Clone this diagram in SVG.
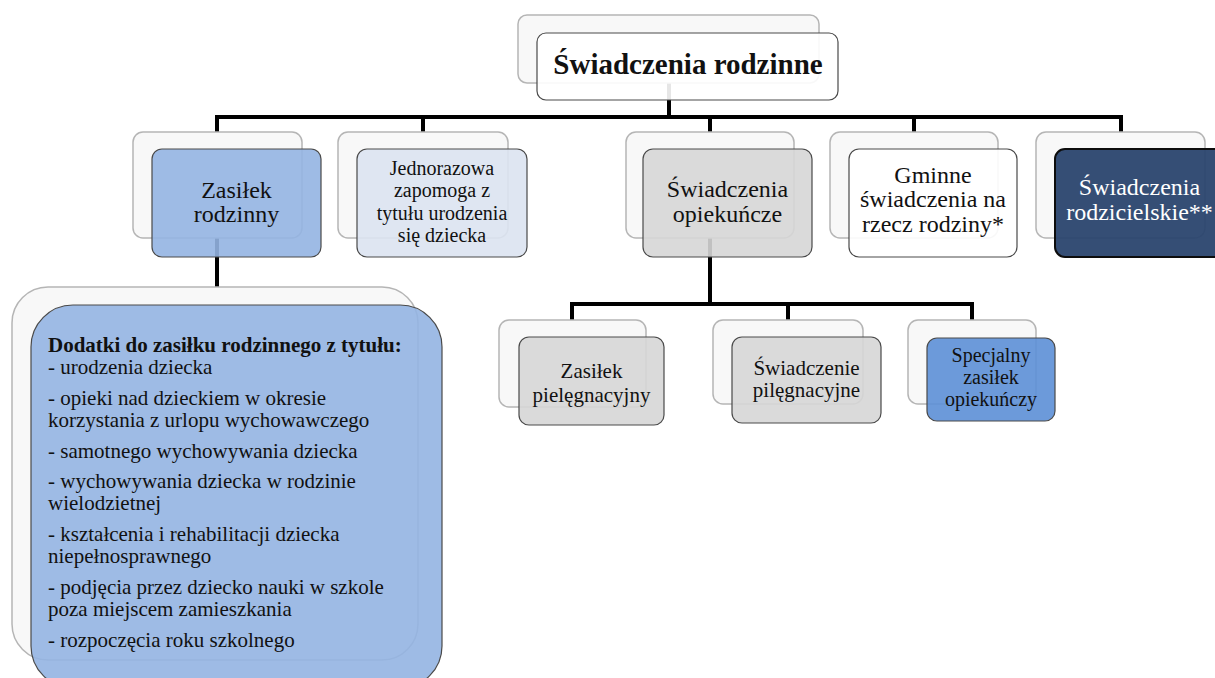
<svg xmlns="http://www.w3.org/2000/svg" width="1215" height="678" viewBox="0 0 1215 678">
<style>
.bk{fill:#f8f8f8;stroke:#b5b5b5;stroke-width:1.5}
.fr{stroke:#4a4a4a;stroke-width:1.2;fill-opacity:0.9}
.t{font-family:"Liberation Serif","Times New Roman",serif;fill:#111;text-anchor:middle}
.l1{font-size:24px}
.l2{font-size:21px}
.l3{font-size:20px}
.lst{font-family:"Liberation Serif","Times New Roman",serif;fill:#111;font-size:21px}
.conn{stroke:#000;stroke-width:4;fill:none;stroke-linejoin:miter;stroke-linecap:butt}
</style>
<rect width="1215" height="678" fill="#ffffff"/>
<g id="connectors">
<path class="conn" d="M669,83 V117"/>
<path class="conn" d="M217,132 V117 H1121 V132"/>
<path class="conn" d="M423,117 V132"/>
<path class="conn" d="M710,117 V132"/>
<path class="conn" d="M914,117 V132"/>
<path class="conn" d="M217,238 V287"/>
<path class="conn" d="M710,238 V304"/>
<path class="conn" d="M572,320 V304 H972 V320"/>
<path class="conn" d="M788,304 V320"/>
</g>
<g id="root">
<rect class="bk" x="518" y="15" width="301" height="68" rx="9"/>
<rect class="fr" x="537" y="33" width="301" height="67" rx="9" fill="#ffffff"/>
<text class="t" x="688" y="74" font-size="29" font-weight="bold">Świadczenia rodzinne</text>
</g>
<g id="zasilek-rodzinny">
<rect class="bk" x="133" y="132" width="169" height="106" rx="10"/>
<rect class="fr" x="152" y="149" width="169" height="108" rx="10" fill="#94b4e2"/>
<text class="t l1" x="236.5" y="198">Zasiłek</text>
<text class="t l1" x="236.5" y="222">rodzinny</text>
</g>
<g id="jednorazowa">
<rect class="bk" x="338" y="132" width="170" height="106" rx="10"/>
<rect class="fr" x="357" y="149" width="170" height="108" rx="10" fill="#dbe3f1"/>
<text class="t l3" x="442" y="175">Jednorazowa</text>
<text class="t l3" x="442" y="197">zapomoga z</text>
<text class="t l3" x="442" y="220">tytułu urodzenia</text>
<text class="t l3" x="442" y="242">się dziecka</text>
</g>
<g id="opiekuncze">
<rect class="bk" x="626" y="132" width="168" height="106" rx="10"/>
<rect class="fr" x="643" y="149" width="169" height="108" rx="10" fill="#d6d6d6"/>
<text class="t l1" x="727.5" y="197">Świadczenia</text>
<text class="t l1" x="727.5" y="222">opiekuńcze</text>
</g>
<g id="gminne">
<rect class="bk" x="830" y="132" width="168" height="106" rx="10"/>
<rect class="fr" x="849" y="149" width="168" height="108" rx="10" fill="#ffffff"/>
<text class="t l1" x="933" y="183">Gminne</text>
<text class="t l1" x="933" y="207">świadczenia na</text>
<text class="t l1" x="933" y="232">rzecz rodziny*</text>
</g>
<g id="rodzicielskie">
<rect class="bk" x="1036" y="132" width="169" height="106" rx="10"/>
<rect x="1055" y="149" width="170" height="108" rx="10" fill="#2a456e" fill-opacity="0.95" stroke="#0d0d0d" stroke-width="2"/>
<text class="t l1" x="1139.5" y="195" style="fill:#ffffff">Świadczenia</text>
<text class="t l1" x="1139.5" y="220" style="fill:#ffffff">rodzicielskie**</text>
</g>
<g id="dodatki">
<rect class="bk" x="12" y="287" width="406" height="373" rx="36"/>
<rect class="fr" x="31" y="305" width="411" height="383" rx="42" fill="#94b4e2"/>
<text class="lst" x="48" y="352" font-weight="bold">Dodatki do zasiłku rodzinnego z tytułu:</text>
<text class="lst" x="48" y="374">- urodzenia dziecka</text>
<text class="lst" x="48" y="405">- opieki nad dzieckiem w okresie</text>
<text class="lst" x="48" y="427">korzystania z urlopu wychowawczego</text>
<text class="lst" x="48" y="458">- samotnego wychowywania dziecka</text>
<text class="lst" x="48" y="488">- wychowywania dziecka w rodzinie</text>
<text class="lst" x="48" y="510">wielodzietnej</text>
<text class="lst" x="48" y="541">- kształcenia i rehabilitacji dziecka</text>
<text class="lst" x="48" y="563">niepełnosprawnego</text>
<text class="lst" x="48" y="594">- podjęcia przez dziecko nauki w szkole</text>
<text class="lst" x="48" y="616">poza miejscem zamieszkania</text>
<text class="lst" x="48" y="647">- rozpoczęcia roku szkolnego</text>
</g>
<g id="zasilek-pielegnacyjny">
<rect class="bk" x="499" y="320" width="147" height="87" rx="10"/>
<rect class="fr" x="519" y="337" width="145" height="88" rx="10" fill="#d6d6d6"/>
<text class="t l2" x="591.5" y="378">Zasiłek</text>
<text class="t l2" x="591.5" y="402">pielęgnacyjny</text>
</g>
<g id="swiadczenie-pielegnacyjne">
<rect class="bk" x="713" y="320" width="150" height="84" rx="10"/>
<rect class="fr" x="732" y="337" width="149" height="86" rx="10" fill="#d6d6d6"/>
<text class="t l2" x="806.5" y="375">Świadczenie</text>
<text class="t l2" x="806.5" y="397">pilęgnacyjne</text>
</g>
<g id="specjalny">
<rect class="bk" x="908" y="320" width="128" height="84" rx="10"/>
<rect class="fr" x="927" y="338" width="128" height="83" rx="10" fill="#5c8fd6"/>
<text class="t l3" x="991" y="362">Specjalny</text>
<text class="t l3" x="991" y="384">zasiłek</text>
<text class="t l3" x="991" y="406">opiekuńczy</text>
</g>
</svg>
